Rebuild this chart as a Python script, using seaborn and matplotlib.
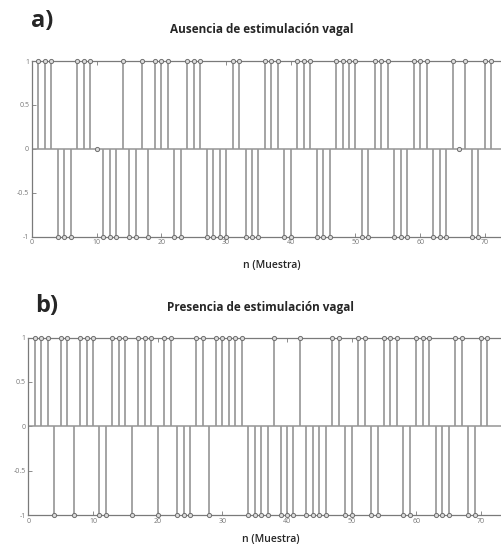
import numpy as np
import pandas as pd
import matplotlib
matplotlib.use("Agg")
import matplotlib.pyplot as plt
import seaborn as sns

sns.set_theme(style="white")
plt.rcParams['font.family'] = ['Open Sans', 'DejaVu Sans']

# muestras n = 1..71
n = list(range(1, 72))

# a) ausencia de estimulación vagal
senal_a = [1, 1, 1, -1, -1, -1, 1, 1, 1, 0,
           -1, -1, -1, 1, -1, -1, 1, -1, 1, 1,
           1, -1, -1, 1, 1, 1, -1, -1, -1, -1,
           1, 1, -1, -1, -1, 1, 1, 1, -1, -1,
           1, 1, 1, -1, -1, -1, 1, 1, 1, 1,
           -1, -1, 1, 1, 1, -1, -1, -1, 1, 1,
           1, -1, -1, -1, 1, 0, 1, -1, -1, 1,
           1]

# b) presencia de estimulación vagal
senal_b = [1, 1, 1, -1, 1, 1, -1, 1, 1, 1,
           -1, -1, 1, 1, 1, -1, 1, 1, 1, -1,
           1, 1, -1, -1, -1, 1, 1, -1, 1, 1,
           1, 1, 1, -1, -1, -1, -1, 1, -1, -1,
           -1, 1, -1, -1, -1, -1, 1, 1, -1, -1,
           1, 1, -1, -1, 1, 1, 1, -1, -1, 1,
           1, 1, -1, -1, -1, 1, 1, -1, -1, 1,
           1]

x_ticks = [0, 10, 20, 30, 40, 50, 60, 70]
y_ticks = [-1, -0.5, 0, 0.5, 1]
y_ticklabels = ['-1', '-0.5', '0', '0.5', '1']

W, H = 502, 546
fig = plt.figure(figsize=(W / 100, H / 100), dpi=100)

gris = '#959595'
borde = '#7a7a7a'


def panel(rect, senal):
    ax = fig.add_axes(rect)
    df = pd.DataFrame({'n': n, 'valor': senal})
    ax.axhline(0, color=gris, lw=1.1, zorder=1)
    ax.vlines(df['n'], 0, df['valor'], color=gris, lw=1.2, zorder=2)
    sns.scatterplot(data=df, x='n', y='valor', ax=ax, marker='o', s=9,
                    facecolor='#dcdcdc', edgecolor='#707070', linewidth=0.7,
                    zorder=3, clip_on=False)
    ax.set_xlim(0, 80)
    ax.set_ylim(-1, 1)
    ax.set_xticks(x_ticks)
    ax.set_xticklabels([str(t) for t in x_ticks])
    ax.set_yticks(y_ticks)
    ax.set_yticklabels(y_ticklabels)
    ax.tick_params(direction='in', length=3, width=0.6, colors=borde,
                   labelsize=5, labelcolor='#777777', pad=2,
                   top=True, right=True, bottom=True, left=True)
    ax.set_xlabel('')
    ax.set_ylabel('')
    for s in ax.spines.values():
        s.set_color(borde)
        s.set_linewidth(0.9)
    return ax


ax_a = panel([32 / W, 1 - 236.7 / H, 80 * 6.47 / W, 175.7 / H], senal_a)
ax_b = panel([28.3 / W, 1 - 515 / H, 80 * 6.467 / W, 177.5 / H], senal_b)

# textos
fig.text(42 / W, 1 - 21 / H, 'a)', fontsize=17, fontweight='bold',
         ha='center', va='center')
fig.text(262 / W, 1 - 29 / H, 'Ausencia de estimulación vagal', fontsize=8.5,
         fontweight='bold', ha='center', va='center')
fig.text(272 / W, 1 - 266 / H, 'n (Muestra)', fontsize=7.5,
         fontweight='semibold', ha='center', va='center')

fig.text(47 / W, 1 - 306 / H, 'b)', fontsize=17, fontweight='bold',
         ha='center', va='center')
fig.text(261 / W, 1 - 308 / H, 'Presencia de estimulación vagal', fontsize=8.5,
         fontweight='bold', ha='center', va='center')
fig.text(271 / W, 1 - 539 / H, 'n (Muestra)', fontsize=7.5,
         fontweight='semibold', ha='center', va='center')

fig.savefig('out.png', dpi=100, facecolor='white')
